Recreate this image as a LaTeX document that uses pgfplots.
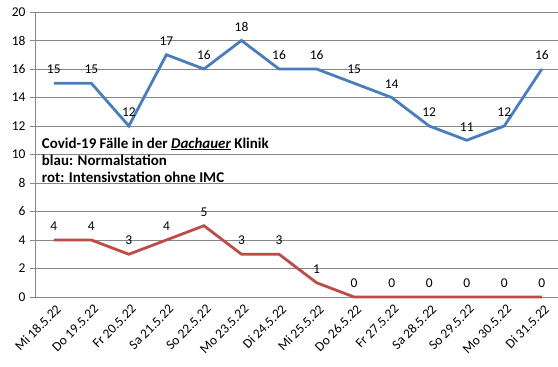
\documentclass[border=0pt]{standalone}
\usepackage{fontspec}
\setmainfont{Carlito}
\usepackage{pgfplots}
\pgfplotsset{compat=1.18}
\definecolor{xlblue}{HTML}{4A7EBB}
\definecolor{xlred}{HTML}{BE4B48}
\definecolor{xlgrid}{HTML}{868686}
\begin{document}
\begin{tikzpicture}
\begin{axis}[
  scale only axis, width=523bp, height=285bp,
  xmin=-0.5, xmax=13.43, ymin=0, ymax=20,
  axis x line*=bottom, axis y line*=left,
  axis line style={xlgrid, line width=0.8bp, -},
  ytick={0,2,...,20},
  ymajorgrids, grid style={xlgrid, line width=0.8bp},
  xtick={0,...,13},
  xticklabels={Mi 18.5.22,Do 19.5.22,Fr 20.5.22,Sa 21.5.22,So 22.5.22,Mo 23.5.22,Di 24.5.22,Mi 25.5.22,Do 26.5.22,Fr 27.5.22,Sa 28.5.22,So 29.5.22,Mo 30.5.22,Di 31.5.22},
  x tick style={draw=none},
  extra x ticks={-0.5,0.5,...,12.5},
  extra x tick labels={},
  extra x tick style={tick style={draw=xlgrid, line width=0.8bp}, major tick length=5bp, tick align=outside, grid=none},
  y tick style={draw=xlgrid, line width=0.8bp},
  major tick length=5bp, tick align=outside,
  /pgf/number format/assume math mode=true,
  yticklabel style={font=\fontsize{13.5}{15}\selectfont, black, xshift=-1bp},
  xticklabel style={font=\fontsize{13.5}{15}\selectfont, black, rotate=45, anchor=east, inner sep=1bp, yshift=-7bp, xshift=1bp},
  nodes near coords,
  every node near coord/.append style={font=\fontsize{13.5}{15}\selectfont, black, yshift=4.5bp},
  clip=false,
]
\addplot[xlblue, line width=2.8bp, mark=none] coordinates {
(0,15) (1,15) (2,12) (3,17) (4,16) (5,18) (6,16) (7,16) (8,15) (9,14) (10,12) (11,11) (12,12) (13,16)};
\addplot[xlred, line width=2.8bp, mark=none] coordinates {
(0,4) (1,4) (2,3) (3,4) (4,5) (5,3) (6,3) (7,1) (8,0) (9,0) (10,0) (11,0) (12,0) (13,0)};
\node[anchor=north west, align=left, inner sep=0pt, font=\fontsize{15}{17.5}\selectfont\bfseries] at (axis cs:-0.32,11.2)
{Covid-19 Fälle in der \underline{\textit{Dachauer}} Klinik\\ blau: Normalstation\\ rot: Intensivstation ohne IMC};
\end{axis}
\pgfresetboundingbox
\useasboundingbox (-35bp,-70bp) rectangle (523bp,297bp);
\end{tikzpicture}
\end{document}
